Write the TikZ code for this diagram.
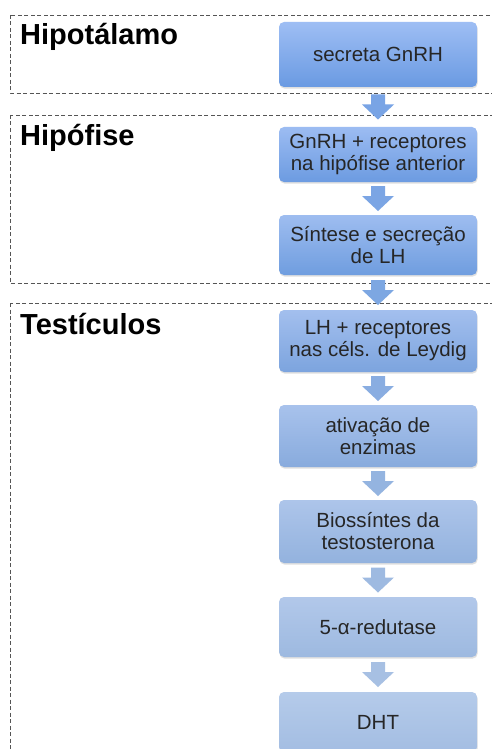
\documentclass[tikz,border=0pt]{standalone}
\usepackage{fontspec}
\setmainfont{Liberation Sans}
\usetikzlibrary{shadows}

\definecolor{t1}{HTML}{9EBEF4}\definecolor{b1}{HTML}{6A9AE2}
\definecolor{t2}{HTML}{9CBCF2}\definecolor{b2}{HTML}{6C9BE1}
\definecolor{t3}{HTML}{9EBDF0}\definecolor{b3}{HTML}{6F9DDF}
\definecolor{t4}{HTML}{A3BFEE}\definecolor{b4}{HTML}{7CA4DE}
\definecolor{t5}{HTML}{A8C2EC}\definecolor{b5}{HTML}{88ABDD}
\definecolor{t6}{HTML}{ADC5EA}\definecolor{b6}{HTML}{93B2DE}
\definecolor{t7}{HTML}{B2C8EA}\definecolor{b7}{HTML}{9DB9E0}
\definecolor{t8}{HTML}{B5CBEA}\definecolor{b8}{HTML}{A3BDE2}
\definecolor{zone}{HTML}{555555}

\tikzset{
  organ/.style={anchor=base west, inner sep=0, font=\fontsize{29}{31}\selectfont\bfseries},
  stage/.style 2 args={rounded corners=5pt, minimum width=198pt, minimum height=60pt,
    align=center, top color=#1, bottom color=#2, draw=none,
    font=\fontsize{20.5}{22}\selectfont, text=black!85,
    drop shadow={opacity=0.25, shadow xshift=0.6pt, shadow yshift=-1.6pt}},
  frame/.style={draw=zone, line width=0.8pt, dash pattern=on 4pt off 2.5pt}
}
% block arrow pointing down, centred on a coordinate
\newcommand\flowarrow[2]{\fill[#2] ([shift={(-7,12.5)}]#1) -- ([shift={(7,12.5)}]#1)
  -- ([shift={(7,2.5)}]#1) -- ([shift={(16,2.5)}]#1) -- ([shift={(0,-12.5)}]#1)
  -- ([shift={(-16,2.5)}]#1) -- ([shift={(-7,2.5)}]#1) -- cycle;}

\begin{document}
\begin{tikzpicture}[x=1pt,y=1pt]
    \useasboundingbox (0,0) rectangle (492,-749);
    \clip (0,0) rectangle (492,-749);
    \fill[white] (0,0) rectangle (492,-749);
    \draw[frame] (10,-15) rectangle (500,-93);
    \draw[frame] (10,-115) rectangle (500,-283);
    \draw[frame] (10,-303) rectangle (500,-770);
    \path (20,-45) node[organ](hipot) {Hipotálamo}
          (20,-145) node[organ](hipof) {Hipófise}
          (20,-334) node[organ](test) {Testículos};
    \path (378,-54.5) node[stage={t1}{b1}, minimum height=65pt](s1) {secreta GnRH}
          (378,-154.5) node[stage={t2}{b2}, minimum height=55pt](s2) {GnRH + receptores\\na hipófise anterior}
          (378,-245) node[stage={t3}{b3}](s3) {Síntese e secreção\\de LH}
          (378,-341) node[stage={t4}{b4}, minimum height=62pt](s4) {LH + receptores\\nas céls. de Leydig}
          (378,-436) node[stage={t5}{b5}, minimum height=62pt](s5) {ativação de\\enzimas}
          (378,-531.5) node[stage={t6}{b6}, minimum height=63pt](s6) {Biossíntes da\\testosterona}
          (378,-627) node[stage={t7}{b7}](s7) {5-α-redutase}
          (378,-722) node[stage={t8}{b8}](s8) {DHT};
    \path (s1.south) -- coordinate[midway](f1) (s2.north);
    \path (s2.south) -- coordinate[midway](f2) (s3.north);
    \path (s3.south) -- coordinate[midway](f3) (s4.north);
    \path (s4.south) -- coordinate[midway](f4) (s5.north);
    \path (s5.south) -- coordinate[midway](f5) (s6.north);
    \path (s6.south) -- coordinate[midway](f6) (s7.north);
    \path (s7.south) -- coordinate[midway](f7) (s8.north);
    \flowarrow{f1}{b1!90!white}
    \flowarrow{f2}{b2!90!white}
    \flowarrow{f3}{b3!90!white}
    \flowarrow{f4}{b4!90!white}
    \flowarrow{f5}{b5!90!white}
    \flowarrow{f6}{b6!90!white}
    \flowarrow{f7}{b7!90!white}
\end{tikzpicture}
\end{document}
